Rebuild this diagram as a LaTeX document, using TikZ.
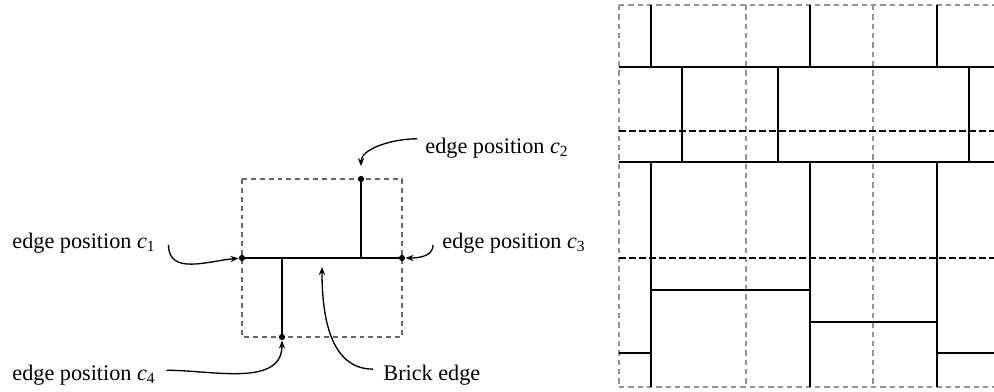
\documentclass[tikz,border=0pt]{standalone}
\usepackage{fontspec}
\setmainfont{Liberation Serif}
\usetikzlibrary{arrows.meta}
\tikzset{
  brick/.style={line width=0.9pt, black},
  cellgrid/.style={line width=0.55pt, draw=gray!85, dash pattern=on 2.4pt off 1.8pt},
  tilebox/.style={line width=0.5pt, draw=black!60, dash pattern=on 2.2pt off 1.8pt},
  midline/.style={line width=0.9pt, black, dash pattern=on 3pt off 1.5pt},
  dot/.style={circle, fill=black, inner sep=0pt, minimum size=2.8pt},
  lbl/.style={anchor=base west, inner sep=0pt, font=\fontsize{10}{12}\selectfont},
  arr/.style={line width=0.6pt, -{Stealth[length=3.6pt,width=2.8pt]}},
}
\newcommand{\cpos}[1]{\textit{c}\textsubscript{#1}}
\begin{document}
\begin{tikzpicture}[x=0.45pt, y=-0.45pt]
\useasboundingbox (0,0) rectangle (994,392);

% ---- single tile with its brick edge ----
\draw[tilebox] (242,179) rectangle (402,337);
\draw[brick] (242,258) -- (402,258);
\draw[brick] (361,179) -- (361,258);
\draw[brick] (282,258) -- (282,337);
\node[dot] (c1) at (242,258) {};
\node[dot] (c2) at (361,179) {};
\node[dot] (c3) at (402,258) {};
\node[dot] (c4) at (282,337) {};
\coordinate (be) at (322,267);

% labels
\node[lbl] (l1) at (12,248) {edge position \cpos{1}};
\node[lbl] (l2) at (425,153) {edge position \cpos{2}};
\node[lbl] (l3) at (442,248) {edge position \cpos{3}};
\node[lbl] (l4) at (12,380) {edge position \cpos{4}};
\node[lbl] (lb) at (383,380) {Brick edge};

% pointers
\draw[arr] ([xshift=5.5pt,yshift=-1pt]l1.east) to[out=-90,in=185,looseness=1.1] (c1);
\draw[arr, shorten >=4.2pt] ([xshift=-3.5pt,yshift=4pt]l2.west) to[out=180,in=90] (c2);
\draw[arr] ([xshift=-4pt,yshift=-1pt]l3.west) to[out=-90,in=0] (c3);
\draw[arr] ([xshift=4.5pt,yshift=2pt]l4.east) to[out=0,in=-90] (c4);
\draw[arr] ([xshift=-4.5pt,yshift=2.5pt]lb.west) to[out=180,in=-90] (be);

% ---- tiled brick wall ----
% cell grid
\foreach \x in {619,746,873}
  \draw[cellgrid] (\x,5) -- (\x,387);
\draw[cellgrid] (619,5) -- (994,5);
\draw[cellgrid] (619,387) -- (994,387);

% courses and mid lines
\draw[brick] (619,67) -- (994,67);
\draw[brick] (619,162) -- (994,162);
\draw[midline] (619,131) -- (994,131);
\draw[midline] (619,258) -- (994,258);

% head joints
\foreach \x in {651,810,937}
  \draw[brick] (\x,5) -- (\x,67);
\foreach \x in {682,778,969}
  \draw[brick] (\x,67) -- (\x,162);
\foreach \x in {651,810,937}
  \draw[brick] (\x,162) -- (\x,387);

% bed joints in the lower course
\draw[brick] (651,290) -- (810,290);
\draw[brick] (810,322) -- (937,322);
\draw[brick] (619,353) -- (651,353);
\draw[brick] (937,353) -- (994,353);
\end{tikzpicture}
\end{document}
